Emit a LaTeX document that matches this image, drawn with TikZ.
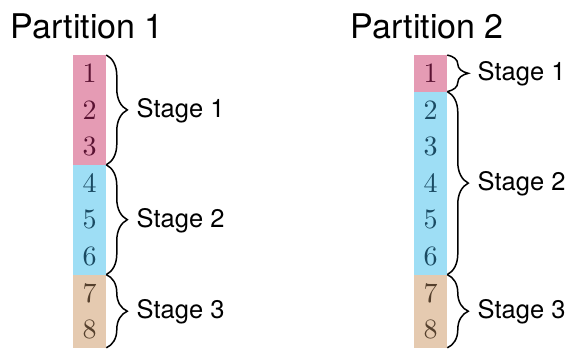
\documentclass[tikz,border=0pt]{standalone}
\usepackage{fontspec}
\newfontfamily\heros{TeX Gyre Heros}
\newfontfamily\lmten[Extension=.otf]{lmroman10-regular}
\usetikzlibrary{decorations.pathreplacing,calc}
\definecolor{pinkfill}{HTML}{E59BB4}
\definecolor{pinktext}{HTML}{5A1232}
\definecolor{bluefill}{HTML}{9EDEF5}
\definecolor{bluetext}{HTML}{1A4A62}
\definecolor{tanfill}{HTML}{E5CAB0}
\definecolor{tantext}{HTML}{55402D}
\begin{document}
\begin{tikzpicture}[x=1pt,y=-1pt,
  cell/.style={minimum width=33.3pt,minimum height=36.6pt,inner sep=0pt,outer sep=0pt,
    anchor=north west,font=\lmten\fontsize{28}{30}\selectfont},
  sa/.style={cell,fill=pinkfill,text=pinktext},
  sb/.style={cell,fill=bluefill,text=bluetext},
  sc/.style={cell,fill=tanfill,text=tantext},
  bracket/.style={decorate,decoration={brace,amplitude=21pt},line width=1.5pt},
  stagelabel/.style={anchor=base west,inner sep=0pt,font=\heros\fontsize{25.5}{28}\selectfont},
  title/.style={anchor=base west,inner sep=0pt,font=\heros\fontsize{34}{38}\selectfont}]
\useasboundingbox (0,0) rectangle (570,349);

% titles
\node[title] (t1) at (10.5,38.3) {Partition 1};
\node[title] (t2) at (350.5,38.3) {Partition 2};

% left column of cells
\foreach \n/\st in {1/sa,2/sa,3/sa,4/sb,5/sb,6/sb,7/sc,8/sc}
  \node[\st] (a\n) at (73,{55+36.6*(\n-1)}) {\n};

% right column of cells
\foreach \n/\st in {1/sa,2/sb,3/sb,4/sb,5/sb,6/sb,7/sc,8/sc}
  \node[\st] (b\n) at (414,{55+36.6*(\n-1)}) {\n};

% braces and stage labels, left
\draw[bracket] (a1.north east) -- coordinate[midway] (am1) (a3.south east);
\draw[bracket] (a4.north east) -- coordinate[midway] (am2) (a6.south east);
\draw[bracket] (a7.north east) -- coordinate[midway] (am3) (a8.south east);
\node[stagelabel] (la1) at ($(am1)+(30.2,7.5)$) {Stage 1};
\node[stagelabel] (la2) at ($(am2)+(30.2,7.5)$) {Stage 2};
\node[stagelabel] (la3) at ($(am3)+(30.2,7.5)$) {Stage 3};

% braces and stage labels, right
\draw[bracket] (b1.north east) -- coordinate[midway] (bm1) (b1.south east);
\draw[bracket] (b2.north east) -- coordinate[midway] (bm2) (b6.south east);
\draw[bracket] (b7.north east) -- coordinate[midway] (bm3) (b8.south east);
\node[stagelabel] (lb1) at ($(bm1)+(30.2,7.5)$) {Stage 1};
\node[stagelabel] (lb2) at ($(bm2)+(30.2,7.5)$) {Stage 2};
\node[stagelabel] (lb3) at ($(bm3)+(30.2,7.5)$) {Stage 3};
\end{tikzpicture}
\end{document}
